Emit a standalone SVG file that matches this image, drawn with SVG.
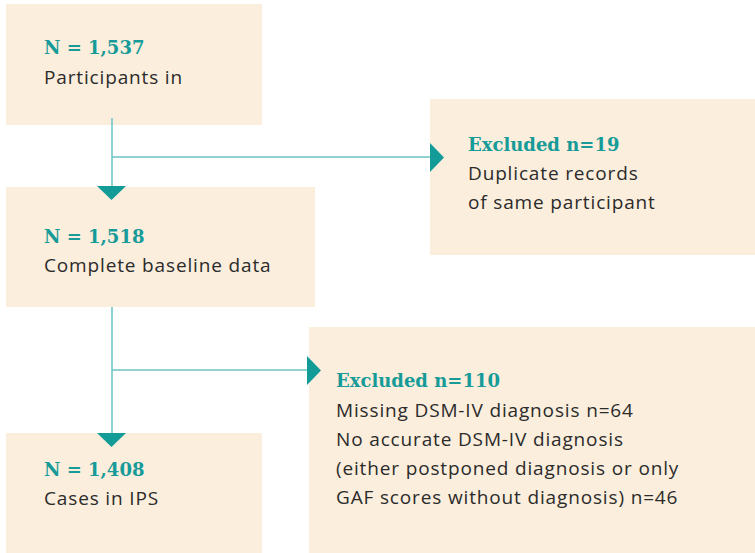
<svg xmlns="http://www.w3.org/2000/svg" width="755" height="553" viewBox="0 0 755 553">
<style>
.box{fill:#fbeedd}
.h{font-family:"DejaVu Serif","Liberation Serif",serif;font-weight:bold;font-size:18px;fill:#169b98}
.t{font-family:"Open Sans","Liberation Sans",sans-serif;font-size:19px;letter-spacing:0.85px;fill:#2b2b2b}
.ln{stroke:#6cc3c3;stroke-width:1.5;fill:none}
.ah{fill:#139b97}
</style>
<rect width="755" height="553" fill="#ffffff"/>
<g id="n1"><rect class="box" x="6" y="4" width="256" height="121"/>
<text class="h" x="44" y="54">N = 1,537</text><text class="t" x="44" y="84">Participants in</text></g>
<g id="n2"><rect class="box" x="430" y="99" width="325" height="156"/>
<text class="h" x="468" y="151">Excluded n=19</text><text class="t" x="468" y="180">Duplicate records</text><text class="t" x="468" y="209">of same participant</text></g>
<g id="n3"><rect class="box" x="6" y="187" width="309" height="120"/>
<text class="h" x="44" y="243">N = 1,518</text><text class="t" x="44" y="272">Complete baseline data</text></g>
<g id="n4"><rect class="box" x="309" y="327" width="446" height="226"/>
<text class="h" x="336" y="387">Excluded n=110</text>
<text class="t" x="336" y="417">Missing DSM-IV diagnosis n=64</text>
<text class="t" x="336" y="446">No accurate DSM-IV diagnosis</text>
<text class="t" x="336" y="475">(either postponed diagnosis or only</text>
<text class="t" x="336" y="504">GAF scores without diagnosis) n=46</text></g>
<g id="n5"><rect class="box" x="6" y="433" width="256" height="120"/>
<text class="h" x="44" y="476">N = 1,408</text><text class="t" x="44" y="505">Cases in IPS</text></g>
<g id="connectors">
<path class="ln" d="M112 118V187M112 157H431"/>
<path class="ah" d="M97 186H126L111.5 200Z"/>
<path class="ah" d="M430 143L444 157.5L430 172Z"/>
<path class="ln" d="M112 307V434M112 370H308"/>
<path class="ah" d="M97 433H126L111.5 447Z"/>
<path class="ah" d="M307 356L321 370.5L307 385Z"/>
</g>
</svg>
